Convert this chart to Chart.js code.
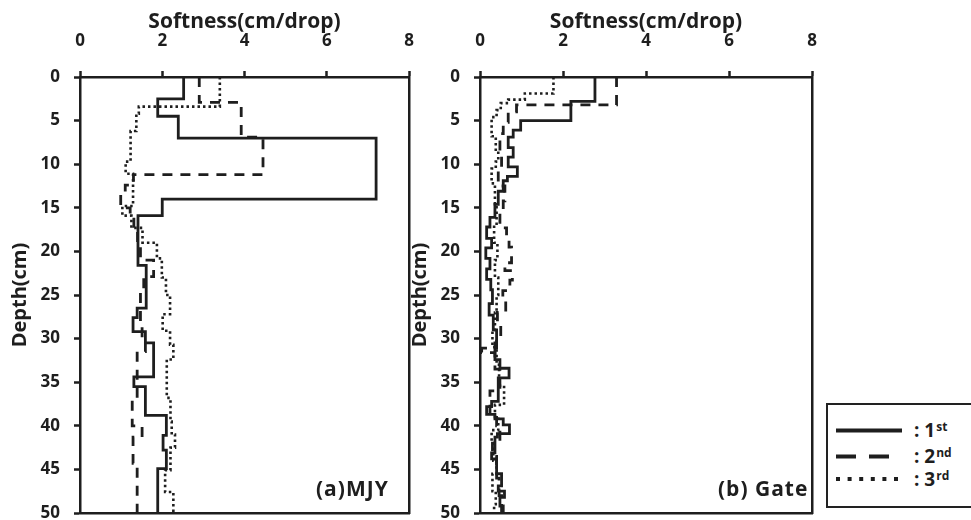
<!DOCTYPE html>
<html><head><meta charset="utf-8">
<script src="https://cdn.jsdelivr.net/npm/chart.js@4.4.1/dist/chart.umd.min.js"></script>
<style>
body{margin:0;background:#fff;width:971px;height:520px;overflow:hidden;position:relative;font-family:'Open Sans',sans-serif;color:#1e1e1e}
canvas{position:absolute;top:0}
#c1{left:0}
#c2{left:400px}
.panel{position:absolute;font-weight:bold;font-size:21px;letter-spacing:1px;line-height:24px;white-space:nowrap}
#legend{position:absolute;left:826px;top:403px;width:170px;height:105px;border:2.5px solid #222;box-sizing:border-box}
.lrow{position:absolute;left:86px;font-weight:bold;font-size:19px;line-height:22px;white-space:nowrap}
.lrow sup{font-size:12px;vertical-align:top;position:relative;top:-3px;margin-left:1px}
#legend svg{position:absolute;left:0;top:0}
</style></head><body>
<canvas id="c1" width="420" height="520"></canvas>
<canvas id="c2" width="420" height="520"></canvas>
<div class="panel" id="pa" style="left:316px;top:476px">(a)MJY</div>
<div class="panel" id="pb" style="left:718px;top:476px">(b) Gate</div>
<div id="legend">
  <svg width="80" height="100">
    <line x1="8" x2="74" y1="25.5" y2="25.5" stroke="#1e1e1e" stroke-width="4"/>
    <line x1="8" x2="74" y1="51.5" y2="51.5" stroke="#1e1e1e" stroke-width="4" stroke-dasharray="20 13"/>
    <line x1="8" x2="74" y1="74" y2="74" stroke="#1e1e1e" stroke-width="4" stroke-dasharray="4 7.6"/>
  </svg>
  <div class="lrow" style="top:14px">: 1<sup>st</sup></div>
  <div class="lrow" style="top:40px">: 2<sup>nd</sup></div>
  <div class="lrow" style="top:63px">: 3<sup>rd</sup></div>
</div>
<script>
// ---------- data ----------
const softnessTicks = [0, 2, 4, 6, 8];
const depthTicks = [0, 5, 10, 15, 20, 25, 30, 35, 40, 45, 50];
const seriesNames = ['1st', '2nd', '3rd'];

// (a) MJY : layer boundaries (cm) and softness (cm/drop) in each layer
const mjyDepth1 = [0,2.5,4.5,7,14,15.9,21.6,26.5,27.6,29.2,30.5,34.4,35.5,38.8,41.1,42.8,44.9,50];
const mjySoft1  = [2.52,1.89,2.39,7.2,2.0,1.41,1.61,1.39,1.29,1.59,1.79,1.31,1.59,2.10,2.02,2.10,1.89];
const mjyDepth2 = [0,2.9,6.9,11.2,12.4,13.4,15,15.9,17.6,19.5,21,22.9,24.5,28,30,31.5,37,40,41.3,44.3,50];
const mjySoft2  = [2.9,3.92,4.45,1.30,1.10,0.99,1.22,1.31,1.40,1.47,1.79,1.55,1.47,1.51,1.59,1.39,1.27,1.51,1.29,1.39];
const mjyDepth3 = [0,3.4,4.2,6.2,9.7,11.1,14.8,15.9,17.3,19,20.8,23,25,27.2,29.1,30.7,32.4,36.8,39.5,41,42.5,45.1,47.6,50];
const mjySoft3  = [3.40,1.43,1.37,1.23,1.11,1.29,1.03,1.25,1.52,1.87,1.99,2.09,2.19,2.01,2.19,2.27,2.11,2.20,2.23,2.31,2.20,2.07,2.27];

// (b) Gate
const gateDepth1 = [0,2.8,5.0,6.1,6.9,8.1,9.2,10.3,11.4,11.9,13.1,14.6,16.1,17.2,18.5,19.6,20.8,22,23.2,24.4,26,27.3,29,30.5,32.4,33.4,34.5,37.2,37.8,38.7,39.2,39.9,40.9,41.3,43.1,43.8,45.5,46.9,47.5,48.2,49.2,50];
const gateSoft1  = [2.77,2.19,0.98,0.80,0.68,0.80,0.68,0.90,0.66,0.56,0.44,0.36,0.24,0.16,0.28,0.14,0.24,0.16,0.26,0.30,0.22,0.32,0.40,0.36,0.48,0.70,0.44,0.28,0.16,0.36,0.56,0.71,0.42,0.36,0.28,0.40,0.52,0.44,0.59,0.48,0.56];
const gateDepth2 = [0,3.2,4.0,5.2,6.5,9.0,10.5,12.5,14.2,15.6,17.3,18.6,19.5,21.3,22.2,23.3,24.5,25.5,27,28.5,30,31.1,31.6,33.5,36,38.8,40,42,43.5,46,48,50];
const gateSoft2  = [3.29,0.88,0.68,0.56,0.48,0.52,0.44,0.60,0.56,0.48,0.64,0.70,0.76,0.60,0.78,0.72,0.55,0.62,0.42,0.50,0.40,0.04,0.36,0.48,0.24,0.40,0.48,0.30,0.40,0.46,0.52];
const gateDepth3 = [0,1.9,2.6,3.0,3.8,4.6,6.8,8.5,9.7,10.5,12.2,14.6,17,19,21,23,25,27,29,31,33,35.4,37.6,39,40.5,42,44,45.5,47.5,49,50];
const gateSoft3  = [1.77,1.08,0.68,0.50,0.40,0.28,0.38,0.44,0.38,0.28,0.36,0.40,0.34,0.42,0.36,0.44,0.40,0.36,0.30,0.40,0.46,0.58,0.36,0.44,0.28,0.32,0.40,0.30,0.38,0.34];

// ---------- build step profiles ----------
function profile(depths, soft){
  const pts = [];
  for (let i = 0; i < soft.length; i++){
    pts.push({x: soft[i], y: depths[i]});
    pts.push({x: soft[i], y: depths[i+1]});
  }
  return pts;
}
const INK = '#1e1e1e';
const styles = [
  {borderDash: [], borderWidth: 2.8},
  {borderDash: [10, 8], borderWidth: 2.8},
  {borderDash: [2.5, 3], borderWidth: 2.6}
];
function datasets(list){
  return list.map((d, i) => Object.assign({
    label: seriesNames[i], data: profile(d[0], d[1]), showLine: true,
    borderColor: INK, backgroundColor: INK, pointRadius: 0, tension: 0,
    fill: false, borderCapStyle: 'butt', borderJoinStyle: 'miter'
  }, styles[i]));
}

function noPad(s){ s.paddingLeft = 0; s.paddingRight = 0; s.paddingTop = 0; s.paddingBottom = 0; }
const axisFont = {family: "'Open Sans', sans-serif", weight: 'bold'};
function makeChart(id, sets, padRight){
  return new Chart(document.getElementById(id), {
    type: 'scatter',
    data: {datasets: datasets(sets)},
    options: {
      responsive: false, animation: false, devicePixelRatio: 1,
      layout: {padding: {left: 0, right: padRight, top: 0, bottom: 7}},
      plugins: {legend: {display: false}, tooltip: {enabled: false}},
      scales: {
        x: {
          type: 'linear', position: 'top', min: 0, max: 8,
          afterBuildTicks: s => { s.ticks = softnessTicks.map(v => ({value: v})); },
          afterFit: s => { s.height = 77; noPad(s); },
          grid: {drawOnChartArea: false, drawTicks: true, tickLength: 6, tickWidth: 2.5, tickColor: INK},
          border: {display: true, color: INK, width: 2.5},
          ticks: {padding: 20, color: INK, maxRotation: 0, font: Object.assign({size: 17}, axisFont)},
          title: {display: true, text: 'Softness(cm/drop)', color: INK, padding: {top: 9, bottom: 0}, font: Object.assign({size: 21}, axisFont)}
        },
        y: {
          type: 'linear', position: 'left', reverse: true, min: 0, max: 50,
          afterBuildTicks: s => { s.ticks = depthTicks.map(v => ({value: v})); },
          afterFit: s => { s.width = 80; noPad(s); },
          grid: {drawOnChartArea: false, drawTicks: true, tickLength: 6, tickWidth: 2.5, tickColor: INK},
          border: {display: true, color: INK, width: 2.5},
          ticks: {padding: 14, color: INK, font: Object.assign({size: 17}, axisFont)},
          title: {display: true, text: 'Depth(cm)', color: INK, padding: {top: 8, bottom: 0}, font: Object.assign({size: 20}, axisFont)}
        },
        x2: {
          type: 'linear', position: 'bottom', min: 0, max: 8,
          afterFit: s => { s.height = 0; noPad(s); },
          ticks: {display: false}, grid: {display: false},
          border: {display: true, color: INK, width: 2.5}
        },
        y2: {
          type: 'linear', position: 'right', min: 0, max: 50, reverse: true,
          afterFit: s => { s.width = 0; noPad(s); },
          ticks: {display: false}, grid: {display: false},
          border: {display: true, color: INK, width: 2.5}
        }
      }
    }
  });
}
makeChart('c1', [[mjyDepth1, mjySoft1], [mjyDepth2, mjySoft2], [mjyDepth3, mjySoft3]], 11);
makeChart('c2', [[gateDepth1, gateSoft1], [gateDepth2, gateSoft2], [gateDepth3, gateSoft3]], 8);
</script>
</body></html>
